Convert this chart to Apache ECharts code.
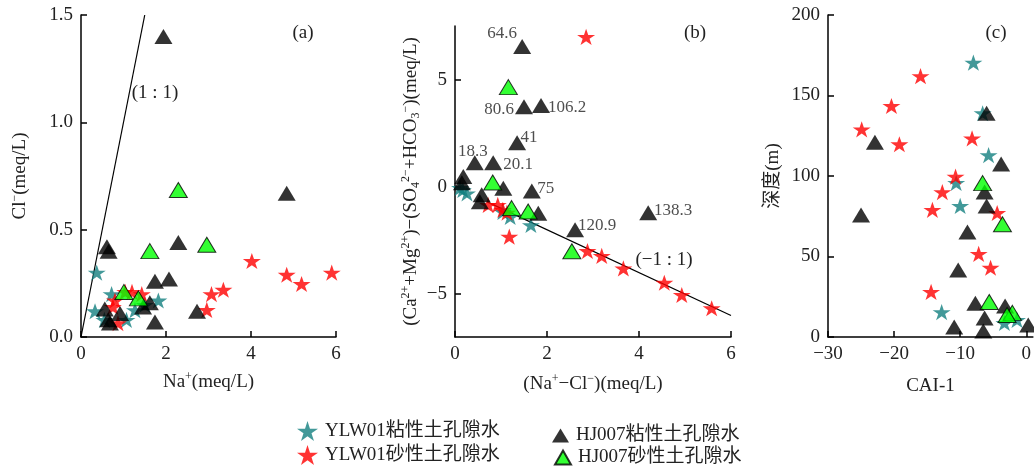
<!DOCTYPE html>
<html><head><meta charset="utf-8">
<script src="https://cdn.jsdelivr.net/npm/echarts@6/dist/echarts.min.js"></script>
<style>html,body{margin:0;padding:0;background:#fff}#c{width:1034px;height:468px}</style>
</head><body><div id="c"></div>
<script>
// ---------- DATA ----------
const seriesNames = ['YLW01粘性土孔隙水', 'YLW01砂性土孔隙水', 'HJ007粘性土孔隙水', 'HJ007砂性土孔隙水'];

// Panel (a): Na+ vs Cl- (meq/L)
const aYlwClay = [[0.37,0.30],[0.33,0.12],[0.72,0.20],[1.07,0.08],[1.82,0.17],[1.27,0.125],[0.55,0.08],[1.5,0.15]];
const aYlwSand = [[0.75,0.14],[0.87,0.065],[1.04,0.21],[1.2,0.21],[1.43,0.2],[0.8,0.17],[2.96,0.126],[3.07,0.20],[3.35,0.22],[4.02,0.354],[4.84,0.29],[5.19,0.247],[5.9,0.30]];
const aHjClay = [[1.94,1.40],[4.84,0.67],[2.29,0.44],[0.61,0.42],[0.65,0.40],[1.74,0.26],[2.07,0.27],[2.73,0.12],[1.74,0.07],[0.56,0.13],[0.92,0.11],[0.64,0.08],[0.68,0.065],[1.62,0.16],[1.46,0.14]];
const aHjSand = [[2.29,0.685],[2.96,0.43],[1.62,0.40],[1.01,0.21],[1.35,0.18]];
const aLine11 = [[0,0],[1.5,1.5]];

// Panel (b): (Na+ - Cl-) vs (Ca2+ + Mg2+) - (SO4 2- + HCO3-)
const bYlwClay = [[0.11,-0.05],[0.17,-0.14],[0.26,-0.3],[1.04,-1.17],[1.2,-1.4],[1.65,-1.78]];
const bYlwSand = [[2.85,6.99],[1.18,-2.32],[0.72,-0.84],[0.93,-0.84],[1.04,-1.07],[1.13,-1.2],[2.88,-2.99],[3.19,-3.22],[3.66,-3.8],[4.55,-4.47],[4.93,-5.04],[5.58,-5.66]];
const bHjClay = [[1.46,6.54],[1.5,3.74],[1.87,3.79],[1.35,2.06],[0.43,1.12],[0.83,1.12],[1.67,-0.19],[2.61,-2.0],[4.2,-1.21],[0.18,0.48],[0.15,0.19],[1.05,-0.06],[0.58,-0.37],[0.54,-0.69],[1.81,-1.23]];
const bHjClayLabels = ['64.6','80.6','106.2','41','18.3','20.1','75','120.9','138.3','','','','','',''];
const bHjSand = [[1.16,4.65],[0.82,0.2],[1.23,-0.99],[1.59,-1.15],[2.54,-3.0]];
const bLineNeg11 = [[0.7,-0.7],[6,-6]];

// Panel (c): CAI-1 vs depth (m)
const cYlwClay = [[-8.0,170.4],[-6.6,139],[-5.7,113],[-10.6,95.7],[-10.0,81.4],[-12.8,15.5],[-3.3,8.7],[-1.4,10.6]];
const cYlwSand = [[-24.9,129],[-20.4,143.5],[-16.0,162],[-19.2,119.7],[-8.2,123.4],[-10.7,99.6],[-12.7,90],[-14.2,79],[-4.4,77],[-7.2,51.6],[-5.4,43],[-14.4,28]];
const cHjClay = [[-25.0,75.8],[-22.9,121],[-6.0,139],[-3.8,107.5],[-6.3,90],[-6.0,81.4],[-8.9,65.2],[-10.3,41.6],[-7.7,21],[-3.2,19.3],[-6.3,11.8],[-6.5,3.7],[-10.9,6.2],[0.3,7.5]];
const cHjSand = [[-6.6,95.6],[-3.6,70],[-5.6,21.7],[-2.1,15],[-2.9,13.7]];

// tick values
const aXTicks = [0,2,4,6], aYTicks = [0,0.5,1.0,1.5];
const bXTicks = [0,2,4,6], bYTicks = [-5,0,5];
const cXTicks = [-30,-20,-10,0], cYTicks = [0,50,100,150,200];

// ---------- STYLE ----------
const labelOffsets = [[-20,-13],[-25,3],[26,2],[12,-5],[-2,-11],[25,2],[14,-2],[22,-4],[25,-2]];
const FONT = "'Liberation Serif','Times New Roman',serif";
const CJK = "'Liberation Serif','Noto Sans CJK SC',serif";
const TXT = '#222';
const FS = 19;
const starPath = 'path://M100,0L122.45,69.1L195.1,69.1L136.3,111.8L158.8,180.9L100,138.2L41.2,180.9L63.7,111.8L4.9,69.1L77.55,69.1Z';
const teal = '#138080', red = '#ff0000', green = '#00ff00';
const minus = v => String(v).replace('-', '\u2212');

const richBase = {
  b: {fontFamily: FONT, fontSize: FS, color: TXT, lineHeight: 22},
  sup: {fontFamily: FONT, fontSize: 12, color: TXT, lineHeight: 13, verticalAlign: 'top'},
  sub: {fontFamily: FONT, fontSize: 12, color: TXT, lineHeight: 13, verticalAlign: 'bottom'}
};

function axisCommon(ticks, fmt) {
  return {
    axisLine: {show: true, onZero: false, lineStyle: {color: '#000', width: 1.5}},
    axisTick: {show: true, inside: true, length: 6, lineStyle: {color: '#000', width: 1.5}, customValues: ticks},
    axisLabel: {fontFamily: FONT, fontSize: FS, color: TXT, margin: 8, customValues: ticks, formatter: fmt || minus},
    splitLine: {show: false},
    nameTextStyle: {fontFamily: FONT, fontSize: FS, color: TXT, rich: richBase},
    nameLocation: 'middle'
  };
}

const grids = [
  {left: 81, top: 15, width: 255, height: 322},
  {left: 455, top: 26, width: 276, height: 311},
  {left: 828, top: 15, width: 206, height: 322}
];

const xAxes = [
  Object.assign(axisCommon(aXTicks), {type: 'value', gridIndex: 0, min: 0, max: 6, name: '{b|Na}{sup|+}{b|(meq/L)}', nameGap: 34}),
  Object.assign(axisCommon(bXTicks), {type: 'value', gridIndex: 1, min: 0, max: 6, name: '{b|(Na}{sup|+}{b|\u2212Cl}{sup|\u2212}{b|)(meq/L)}', nameGap: 36}),
  Object.assign(axisCommon(cXTicks), {type: 'value', gridIndex: 2, min: -30, max: 1, name: '{b|CAI-1}', nameGap: 38})
];
const yAxes = [
  Object.assign(axisCommon(aYTicks, v => v.toFixed(1)), {type: 'value', gridIndex: 0, min: 0, max: 1.5, name: '{b|Cl}{sup|\u2212}{b|(meq/L)}', nameGap: 50, nameRotate: 90}),
  Object.assign(axisCommon(bYTicks), {type: 'value', gridIndex: 1, min: -7, max: 7.5, name: '{b|(Ca}{sup|2+}{b|+Mg}{sup|2+}{b|)\u2212(SO}{sub|4}{sup|2\u2212}{b|+HCO}{sub|3}{sup|\u2212}{b|)(meq/L)}', nameGap: 33, nameRotate: 90}),
  Object.assign(axisCommon(cYTicks), {type: 'value', gridIndex: 2, min: 0, max: 200, name: '{b|深度(m)}', nameGap: 44, nameRotate: 90})
];
yAxes[2].nameTextStyle = {fontFamily: CJK, fontSize: FS, color: TXT, rich: {b: {fontFamily: CJK, fontSize: FS, color: TXT, lineHeight: 22}}};

const kinds = [
  {symbol: starPath, size: [18,17], itemStyle: {color: teal}},
  {symbol: starPath, size: [18,17], itemStyle: {color: red}},
  {symbol: 'triangle', size: [18,15], itemStyle: {color: '#000'}},
  {symbol: 'triangle', size: [18,15], itemStyle: {color: green, borderColor: '#000', borderWidth: 1}}
];

function scatter(k, gi, data) {
  return {
    type: 'scatter', name: seriesNames[k], xAxisIndex: gi, yAxisIndex: gi,
    symbol: kinds[k].symbol, symbolSize: kinds[k].size, symbolKeepAspect: true,
    itemStyle: kinds[k].itemStyle, data: data, z: 2 + k, silent: true
  };
}
function refLine(gi, data) {
  return {type: 'line', xAxisIndex: gi, yAxisIndex: gi, data: data, showSymbol: false, symbol: 'none',
    lineStyle: {color: '#000', width: 1.2}, silent: true, z: 1};
}

const bBlackData = bHjClay.map((p, i) => {
  const t = bHjClayLabels[i];
  if (!t) return p;
  return {value: p, label: {show: true, formatter: t, position: 'inside', offset: labelOffsets[i],
    fontFamily: FONT, fontSize: 17, color: TXT}};
});

const series = [
  refLine(0, aLine11), refLine(1, bLineNeg11),
  scatter(0,0,aYlwClay), scatter(1,0,aYlwSand), scatter(2,0,aHjClay), scatter(3,0,aHjSand),
  scatter(0,1,bYlwClay), scatter(1,1,bYlwSand), scatter(2,1,bBlackData), scatter(3,1,bHjSand),
  scatter(0,2,cYlwClay), scatter(1,2,cYlwSand), scatter(2,2,cHjClay), scatter(3,2,cHjSand)
];

const legendPos = [[297,421,21,20,9],[297,445,21,20,8],[552,426,17,14,5],[554,448,16,14,5]];
const legends = seriesNames.map((n, k) => ({
  left: legendPos[k][0], top: legendPos[k][1], itemWidth: legendPos[k][2], itemHeight: legendPos[k][3],
  selectedMode: false, padding: 0,
  data: [{name: n, icon: kinds[k].symbol}],
  textStyle: {fontFamily: CJK, fontSize: FS, color: TXT, padding: [legendPos[k][4],0,0,2]}
}));

const ann = (t, x, y) => ({type: 'text', x: x, y: y, style: {text: t, font: FS + "px 'Liberation Serif', serif", fill: TXT, align: 'center', verticalAlign: 'middle'}, silent: true});

const chart = echarts.init(document.getElementById('c'), null, {renderer: 'canvas'});
chart.setOption({
  animation: false,
  backgroundColor: '#fff',
  grid: grids, xAxis: xAxes, yAxis: yAxes, series: series, legend: legends,
  graphic: [ann('(a)', 303, 33), ann('(b)', 695, 33), ann('(c)', 996, 33), ann('(1 : 1)', 155, 93), ann('(\u22121 : 1)', 664, 260)]
});
</script></body></html>
